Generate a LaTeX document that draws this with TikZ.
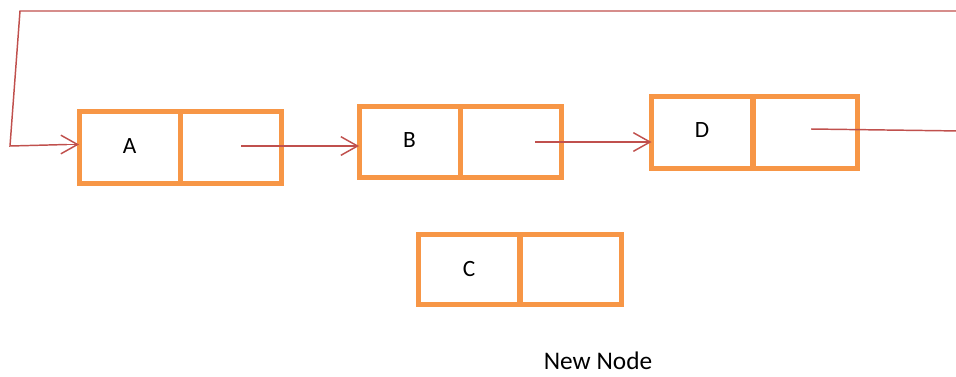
\documentclass[tikz,border=0pt]{standalone}
\usepackage{fontspec}
\setmainfont{Carlito}
\usetikzlibrary{arrows.meta,calc}
\definecolor{cellorange}{HTML}{F79646}
\definecolor{linkred}{HTML}{C0504D}
\tikzset{
  cell/.style={draw=cellorange, line width=3.75pt, minimum width=75.75pt,
    minimum height=53.5pt, inner sep=0pt, outer sep=0pt,
    font=\fontsize{17.5}{20}\selectfont},
  link/.style={draw=linkred, line width=1.1pt,
    -{Straight Barb[length=12.5pt,width=14pt,line width=1.1pt]}},
  wire/.style={draw=linkred, line width=1.1pt}
}
\begin{document}
\begin{tikzpicture}[x=0.75pt,y=-0.75pt]
\useasboundingbox (0,0) rectangle (956,376);
\clip (0,0) rectangle (956,376);

% list nodes: data cell + pointer cell
\node[cell] (A) at (129.5,147.5) {\raisebox{1.5pt}{A}};
\node[cell] (Ap) at (230.5,147.5) {};
\node[cell] (B) at (409.5,142) {\raisebox{2.5pt}{B}};
\node[cell] (Bp) at (510.5,142) {};
\node[cell, minimum height=54pt] (D) at (702,132) {\raisebox{2.5pt}{D}};
\node[cell, minimum height=54pt, minimum width=78pt] (Dp) at (805,132) {};
\node[cell, minimum height=52.5pt] (C) at (469,269) {\raisebox{0.5pt}{C}};
\node[cell, minimum height=52.5pt] (Cp) at (570.5,269) {};

\node[font=\fontsize{19}{23}\selectfont] (caption) at (598,361) {New Node};

% next pointers
\coordinate (aStart) at ($(Ap.center)+(10.5,-1.5)$);
\coordinate (bStart) at ($(Bp.center)+(24.5,0)$);
\coordinate (dStart) at ($(Dp.center)+(6,-3)$);
\draw[link] (aStart) -- (aStart -| B.west);
\draw[link] (bStart) -- (bStart -| D.west);

% wrap-around link from D back to A
\coordinate (r1) at (962,131);
\coordinate (r2) at (962,11);
\coordinate (l1) at (20,11);
\coordinate (l2) at (10,146);
\coordinate (aIn) at ($(A.west)+(0,-3)$);
\draw[wire] (dStart) -- (r1) -- (r2) -- (l1) -- (l2) -- ($(aIn)+(-12,0)$);
\draw[link] ($(aIn)+(-14,0)$) -- (aIn);
\end{tikzpicture}
\end{document}
